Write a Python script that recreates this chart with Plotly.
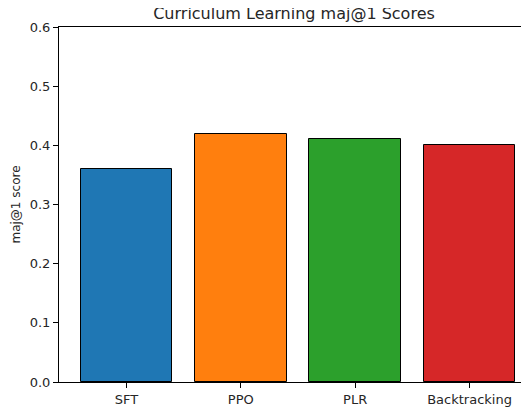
import plotly.graph_objects as go

methods = ['SFT', 'PPO', 'PLR', 'Backtracking']
scores = [0.36, 0.42, 0.41, 0.40]
bar_colors = ['#1f77b4', '#ff7f0e', '#2ca02c', '#d62728']
y_ticks = [0.0, 0.1, 0.2, 0.3, 0.4, 0.5, 0.6]

fig = go.Figure()
fig.add_trace(go.Bar(
    x=list(range(len(methods))),
    y=scores,
    width=0.8,
    marker=dict(color=bar_colors, line=dict(color='black', width=1)),
))

# matplotlib-like axes, right part of the frame is cut off in the original
fig.update_xaxes(
    range=[-0.59, 3.52],
    tickvals=list(range(len(methods))),
    ticktext=methods,
    ticks='outside', ticklen=5, tickcolor='black',
    showline=True, linecolor='black', linewidth=1,
    mirror=True, showgrid=False, zeroline=False,
)
fig.update_yaxes(
    range=[0, 0.6],
    tickvals=y_ticks,
    ticktext=[f'{v:.1f}' for v in y_ticks],
    ticks='outside', ticklen=5, tickcolor='black',
    showline=True, linecolor='black', linewidth=1,
    showgrid=False, zeroline=False,
    title=dict(text='maj@1 score', standoff=6, font=dict(size=12)),
)

# the page body adds an 8px offset, so the figure is made 8px smaller
fig.update_layout(
    width=521, height=399,
    margin=dict(l=51, r=0, t=19, b=25, autoexpand=False),
    plot_bgcolor='white', paper_bgcolor='white',
    font=dict(family='DejaVu Sans', size=13, color='#262626'),
    title=dict(text='Curriculum Learning maj@1 Scores', x=0.5, xref='paper',
               xanchor='center', y=1, yref='container', yanchor='top',
               pad=dict(t=0), font=dict(size=16)),
    showlegend=False,
    bargap=0,
)

fig.write_html("out.html")
